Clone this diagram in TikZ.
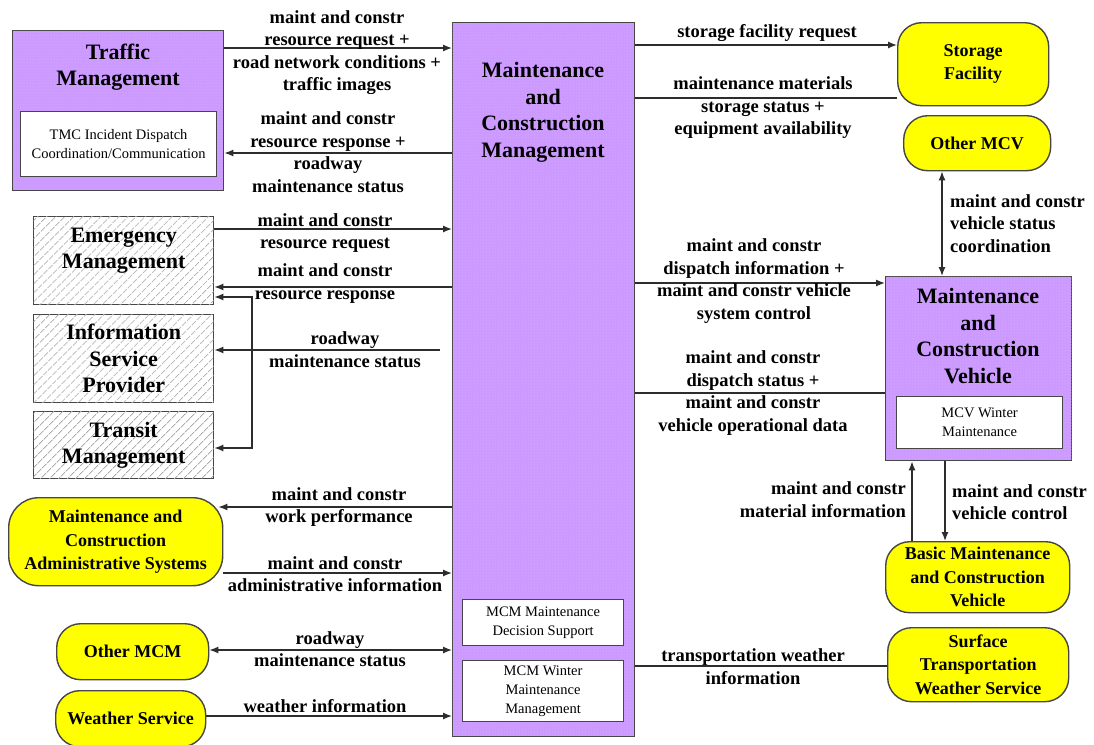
\documentclass[tikz,border=0pt]{standalone}
\usepackage{fontspec}
\setmainfont{Liberation Serif}
\usetikzlibrary{arrows.meta,patterns,patterns.meta,backgrounds}

\definecolor{mcpurple}{RGB}{204,153,255}
\definecolor{mcyellow}{RGB}{255,255,0}
\definecolor{edgegray}{RGB}{70,70,70}
\definecolor{wiregray}{RGB}{45,45,45}

\tikzset{
  box/.style={anchor=north west, inner sep=0pt, draw=edgegray, line width=1.4pt, align=center},
  sysbox/.style={box, fill=mcpurple, postaction={pattern=dots, pattern color=white!30!mcpurple}},
  subbox/.style={box, fill=white, line width=1.2pt, font=\fontsize{14.5}{19}\selectfont},
  extbox/.style={box, rounded corners=24pt, fill=mcyellow, font=\fontsize{18}{23.5}\selectfont\bfseries},
  hatchbox/.style={box, fill=white, postaction={pattern={Lines[angle=45,distance=6.5pt,line width=0.9pt]}, pattern color=gray!65},
    font=\fontsize{22}{26.5}\selectfont\bfseries},
  title/.style={inner sep=0pt, align=center, font=\fontsize{22}{26.5}\selectfont\bfseries},
  flowlabel/.style={inner sep=0pt, align=center, font=\fontsize{18.5}{22.5}\selectfont\bfseries},
  wire/.style={draw=wiregray, line width=1.3pt},
  flow/.style={wire, -{Latex[length=9pt,width=7pt]}},
  flowboth/.style={wire, {Latex[length=9pt,width=7pt]}-{Latex[length=9pt,width=7pt]}},
}

\begin{document}
\begin{tikzpicture}[x=1pt,y=-1pt]
\useasboundingbox (0,0) rectangle (1094,744);
\clip (0,0) rectangle (1094,744);

% ---- central subsystem ----
\node[sysbox, minimum width=182pt, minimum height=714pt] (mcm) at (452,22) {};
\node[title] (mcmt) at (543,112.5) {Maintenance\\and\\Construction\\Management};
\node[subbox, minimum width=161pt, minimum height=46pt] (mcmds) at (462,599) {MCM Maintenance\\Decision Support};
\node[subbox, minimum width=161pt, minimum height=61pt] (mcmwm) at (462,660) {MCM Winter\\Maintenance\\Management};

% ---- left side ----
\node[sysbox, minimum width=211pt, minimum height=160pt] (tm) at (12,30) {};
\node[title] (tmt) at (118,67) {Traffic\\Management};
\node[subbox, minimum width=196pt, minimum height=65pt] (tmc) at (20,111) {TMC Incident Dispatch\\Coordination/Communication};

\node[hatchbox, minimum width=180pt, minimum height=88pt] (em) at (33,216) {Emergency\\Management\\[-10pt]\strut};
\node[hatchbox, minimum width=180pt, minimum height=88pt] (isp) at (33,314) {Information\\Service\\Provider};
\node[hatchbox, minimum width=180pt, minimum height=67pt] (tran) at (33,411) {Transit\\Management};

\node[extbox, minimum width=214pt, minimum height=88pt, rounded corners=30pt] (admin) at (8,497) {Maintenance and\\Construction\\Administrative Systems};
\node[extbox, minimum width=152pt, minimum height=56pt] (omcm) at (56,623) {Other MCM};
\node[extbox, minimum width=150pt, minimum height=56pt] (ws) at (55,690) {Weather Service};

% ---- right side ----
\node[extbox, minimum width=151pt, minimum height=83pt] (stor) at (897,22) {Storage\\Facility};
\node[extbox, minimum width=147pt, minimum height=55pt] (omcv) at (903,115) {Other MCV};
\node[sysbox, minimum width=186pt, minimum height=184pt] (mcv) at (885,276) {};
\node[title] (mcvt) at (978,336) {Maintenance\\and\\Construction\\Vehicle};
\node[subbox, minimum width=166pt, minimum height=52pt] (mcvw) at (896,396) {MCV Winter\\Maintenance};
\node[extbox, minimum width=184pt, minimum height=71pt] (basic) at (885,541) {Basic Maintenance\\and Construction\\Vehicle};
\node[extbox, minimum width=181pt, minimum height=74pt] (stws) at (887,627) {Surface\\Transportation\\Weather Service};

% ---- flows ----
\coordinate (ispsrc) at (440,350);
\coordinate (fork) at (252,297);
\begin{pgfonlayer}{background}
  \fill[white] (0,0) rectangle (1094,744);
  \draw[flow] (tm.east |- 0,48) -- (mcm.west |- 0,48);
  \draw[flow] (mcm.west |- 0,153) -- (tm.east |- 0,153);
  \draw[flow] (em.east |- 0,229) -- (mcm.west |- 0,229);
  \draw[flow] (mcm.west |- 0,287) -- (em.east |- 0,287);
  \draw[flowboth] (em.east |- fork) -- (fork) |- (tran.east |- 0,448);
  \draw[flow] (ispsrc) -- (isp.east |- ispsrc);
  \draw[flow] (mcm.west |- 0,507) -- ([xshift=-5pt]admin.east |- 0,507);
  \draw[flow] (admin.east |- 0,573) -- (mcm.west |- 0,573);
  \draw[flowboth] (omcm.east |- 0,650) -- (mcm.west |- 0,650);
  \draw[flow] (ws.east |- 0,716) -- (mcm.west |- 0,716);

  \draw[flow] (mcm.east |- 0,45) -- (stor.west |- 0,45);
  \draw[wire] (stor.west |- 0,98) -- (mcm.east |- 0,98);
  \draw[flowboth] (omcv.south -| 942,0) -- (mcv.north -| 942,0);
  \draw[flow] (mcm.east |- 0,283) -- (mcv.west |- 0,283);
  \draw[wire] (mcv.west |- 0,393) -- (mcm.east |- 0,393);
  \draw[flow] (basic.north -| 912,0) -- (mcv.south -| 912,0);
  \draw[flow] (mcv.south -| 945,0) -- (basic.north -| 945,0);
  \draw[wire] (stws.west |- 0,666) -- (mcm.east |- 0,666);
\end{pgfonlayer}

% ---- flow labels ----
\node[flowlabel] (l1) at (337,52.5) {maint and constr\\resource request +\\road network conditions +\\traffic images};
\node[flowlabel] (l2) at (328,152) {maint and constr\\resource response +\\roadway\\maintenance status};
\node[flowlabel] (l3) at (325,233) {maint and constr\\resource request};
\node[flowlabel] (l4) at (325,283.5) {maint and constr\\resource response};
\node[flowlabel] (l5) at (345,349.5) {roadway\\maintenance status};
\node[flowlabel] (l6) at (339,507) {maint and constr\\work performance};
\node[flowlabel] (l7) at (335,574) {maint and constr\\administrative information};
\node[flowlabel] (l8) at (330,649) {roadway\\maintenance status};
\node[flowlabel] (l9) at (325,706) {weather information};

\node[flowlabel] (r1) at (767,33) {storage facility request};
\node[flowlabel] (r2) at (763,108) {maintenance materials\\storage status +\\equipment availability};
\node[flowlabel, align=left, anchor=west] (r3) at (950,223.5) {maint and constr\\vehicle status\\coordination};
\node[flowlabel] (r4) at (754,281) {maint and constr\\dispatch information +\\maint and constr vehicle\\system control};
\node[flowlabel] (r5) at (753,393) {maint and constr\\dispatch status +\\maint and constr\\vehicle operational data};
\node[flowlabel, align=right, anchor=east] (r6) at (906,499.5) {maint and constr\\material information};
\node[flowlabel, align=left, anchor=west] (r7) at (952,502) {maint and constr\\vehicle control};
\node[flowlabel] (r8) at (753,666.5) {transportation weather\\information};
\end{tikzpicture}
\end{document}
